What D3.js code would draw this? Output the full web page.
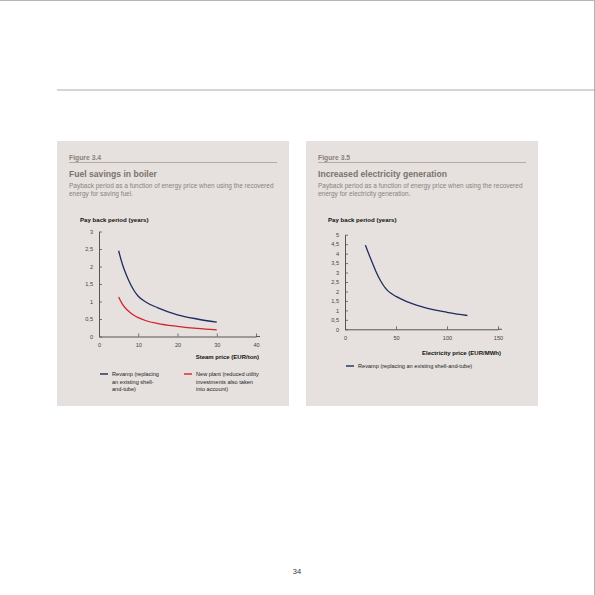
<!DOCTYPE html>
<html>
<head>
<meta charset="utf-8">
<script src="https://cdn.jsdelivr.net/npm/d3@7"></script>
<style>
  body { margin: 0; background: #fff; }
  text { font-family: "Liberation Sans", Arial, sans-serif; }
</style>
</head>
<body>
<svg id="page" width="595" height="595"></svg>
<script>
// figure 3.4 - steam price vs payback
const steamPrice = [5, 6, 7, 8, 9, 10, 12, 15, 20, 25, 30]
const revampBoiler = [2.45, 2.05, 1.75, 1.5, 1.3, 1.15, 0.98, 0.82, 0.62, 0.5, 0.41]
const newPlantBoiler = [1.13, 0.92, 0.78, 0.68, 0.6, 0.54, 0.45, 0.37, 0.29, 0.23, 0.19]
const steamTicks = [0, 10, 20, 30, 40]
const yearTicksLeft = [0, 0.5, 1, 1.5, 2, 2.5, 3]

// figure 3.5 - electricity price vs payback
const elecPrice = [20, 25, 30, 35, 40, 45, 50, 60, 70, 80, 90, 100, 110, 120]
const revampElec = [4.45, 3.75, 3.1, 2.55, 2.15, 1.9, 1.74, 1.48, 1.28, 1.12, 1.0, 0.9, 0.8, 0.73]
const elecTicks = [0, 50, 100, 150]
const yearTicksRight = [0, 0.5, 1, 1.5, 2, 2.5, 3, 3.5, 4, 4.5, 5]

const navy = '#1e2c5e'
const red = '#d6202e'
const panelFill = '#e6e1de'
const labelGrey = '#8a807a'
const axisGrey = '#555'

const svg = d3.select('#page')

// page frame
svg.append('line').attr('x1', 0).attr('x2', 595).attr('y1', 0.5).attr('y2', 0.5)
  .attr('stroke', '#b5b5b5').attr('stroke-width', 1)
svg.append('line').attr('x1', 594.5).attr('x2', 594.5).attr('y1', 0).attr('y2', 595)
  .attr('stroke', '#b5b5b5').attr('stroke-width', 1)
svg.append('line').attr('x1', 57).attr('x2', 595).attr('y1', 90).attr('y2', 90)
  .attr('stroke', '#9d958f').attr('stroke-width', 0.8)

svg.append('text').text('34')
  .attr('x', 297).attr('y', 574).attr('text-anchor', 'middle')
  .attr('font-size', 7.5).attr('fill', '#333')

const comma = d => String(d).replace('.', ',')

const drawPanel = (opt) => {
  const g = svg.append('g')
  g.append('rect')
    .attr('x', opt.px).attr('y', 141).attr('width', 232).attr('height', 265)
    .attr('fill', panelFill)

  const tx = opt.px + 12
  g.append('text').text(opt.fig)
    .attr('x', tx).attr('y', 159.5)
    .attr('font-size', 6.8).attr('font-weight', 'bold').attr('fill', labelGrey)
  g.append('line')
    .attr('x1', tx).attr('x2', tx + 208).attr('y1', 162.5).attr('y2', 162.5)
    .attr('stroke', '#9d938c').attr('stroke-width', 0.7)
  g.append('text').text(opt.title)
    .attr('x', tx).attr('y', 177)
    .attr('font-size', 8.6).attr('font-weight', 'bold').attr('fill', '#7b726c')
  opt.sub.forEach((s, i) => {
    g.append('text').text(s)
      .attr('x', tx).attr('y', 187.5 + i * 8)
      .attr('font-size', 6.5).attr('fill', '#8a817c')
  })

  g.append('text').text('Pay back period (years)')
    .attr('x', opt.ylabX).attr('y', 222)
    .attr('font-size', 6.1).attr('font-weight', 'bold').attr('fill', '#111')

  const x = d3.scaleLinear().domain(opt.xDomain).range(opt.xRange)
  const y = d3.scaleLinear().domain(opt.yDomain).range(opt.yRange)

  const yAxis = g.append('g')
    .attr('transform', `translate(${opt.xRange[0]},0)`)
    .call(d3.axisLeft(y).tickValues(opt.yTicks).tickFormat(comma)
      .tickSizeInner(-3).tickSizeOuter(0).tickPadding(6))
  const xAxis = g.append('g')
    .attr('transform', `translate(0,${opt.yRange[0]})`)
    .call(d3.axisBottom(x).tickValues(opt.xTicks).tickFormat(comma)
      .tickSizeInner(-3).tickSizeOuter(0).tickPadding(7))

  ;[yAxis, xAxis].forEach(a => {
    a.select('.domain').attr('stroke', axisGrey).attr('stroke-width', 1)
    a.selectAll('.tick line').attr('stroke', axisGrey).attr('stroke-width', 0.8)
    a.selectAll('.tick text').attr('font-size', 5.6).attr('fill', '#444')
      .attr('font-family', '"Liberation Sans", Arial, sans-serif')
  })
  xAxis.selectAll('.tick').filter(d => d === 0).select('line').remove()
  // axis runs a touch past the last tick
  g.append('line')
    .attr('x1', opt.xRange[1]).attr('x2', opt.xRange[1] + 4)
    .attr('y1', opt.yRange[0]).attr('y2', opt.yRange[0])
    .attr('stroke', axisGrey).attr('stroke-width', 1)

  g.append('text').text(opt.xTitle)
    .attr('x', opt.xRange[1] + 3).attr('y', opt.xTitleY).attr('text-anchor', 'end')
    .attr('font-size', 6).attr('font-weight', 'bold').attr('fill', '#111')

  const line = d3.line()
    .x(d => x(d[0]))
    .y(d => y(d[1]))
    .curve(d3.curveMonotoneX)

  opt.series.forEach(s => {
    g.append('path')
      .datum(d3.zip(opt.xs, s.values))
      .attr('d', line)
      .attr('fill', 'none')
      .attr('stroke', s.color)
      .attr('stroke-width', 1.3)
  })

  opt.legend.forEach(l => {
    g.append('line')
      .attr('x1', l.x).attr('x2', l.x + 8).attr('y1', l.y).attr('y2', l.y)
      .attr('stroke', l.color).attr('stroke-width', 1.4)
    l.lines.forEach((t, i) => {
      g.append('text').text(t)
        .attr('x', l.x + 12).attr('y', l.y + 2 + i * 7.5)
        .attr('font-size', 5.6).attr('fill', '#222')
    })
  })
}

drawPanel({
  px: 57,
  fig: 'Figure 3.4',
  title: 'Fuel savings in boiler',
  sub: ['Payback period as a function of energy price when using the recovered',
        'energy for saving fuel.'],
  ylabX: 80,
  xDomain: [0, 40], xRange: [99, 256],
  yDomain: [0, 3], yRange: [336.5, 231.5],
  xTicks: steamTicks, yTicks: yearTicksLeft,
  xTitle: 'Steam price (EUR/ton)', xTitleY: 359,
  xs: steamPrice,
  series: [
    { values: revampBoiler, color: navy },
    { values: newPlantBoiler, color: red }
  ],
  legend: [
    { x: 100, y: 374, color: navy, lines: ['Revamp (replacing', 'an existing shell-', 'and-tube)'] },
    { x: 184, y: 374, color: red, lines: ['New plant (reduced utility', 'investments also taken', 'into account)'] }
  ]
})

drawPanel({
  px: 306,
  fig: 'Figure 3.5',
  title: 'Increased electricity generation',
  sub: ['Payback period as a function of energy price when using the recovered',
        'energy for electricity generation.'],
  ylabX: 328,
  xDomain: [0, 150], xRange: [345, 498],
  yDomain: [0, 5], yRange: [329.3, 234.7],
  xTicks: elecTicks, yTicks: yearTicksRight,
  xTitle: 'Electricity price (EUR/MWh)', xTitleY: 355,
  xs: elecPrice,
  series: [
    { values: revampElec, color: navy }
  ],
  legend: [
    { x: 346, y: 366, color: navy, lines: ['Revamp (replacing an existing shell-and-tube)'] }
  ]
})
</script>
</body>
</html>
